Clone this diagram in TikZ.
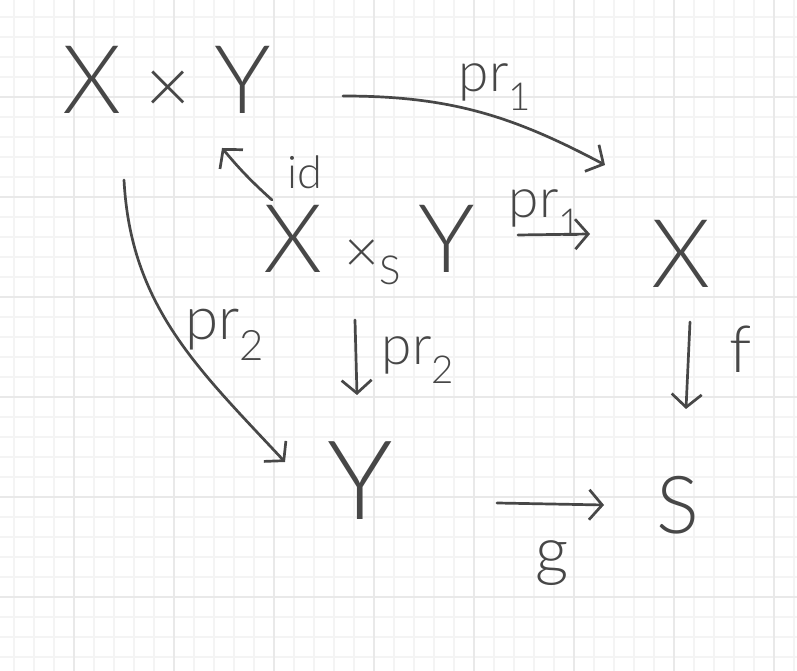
\documentclass[tikz,border=0pt]{standalone}
\usepackage{fontspec}
\setmainfont{Lato Light}
\usetikzlibrary{arrows.meta}
\definecolor{ink}{HTML}{474747}
\definecolor{gridminor}{HTML}{F4F4F4}
\definecolor{gridmajor}{HTML}{E9E9E9}
\begin{document}
\begin{tikzpicture}[x=1pt,y=1pt,
  obj/.style={text=ink, font=\fontsize{95}{95}\selectfont, inner sep=0pt, anchor=base},
  lbl/.style={text=ink, font=\fontsize{55}{55}\selectfont, inner sep=0pt},
  arr/.style={draw=ink, line width=2.7pt, line cap=round, line join=round,
    -{Straight Barb[length=13pt,width=30pt]}}]
\useasboundingbox (0,0) rectangle (797,671);
\fill[white] (0,0) rectangle (797,671);
% grid paper
\foreach \gx in {14,34,...,794} \draw[gridminor, line width=1.4pt] (\gx,0) -- (\gx,671);
\foreach \gy in {14,34,...,654} \draw[gridminor, line width=1.4pt] (0,\gy) -- (797,\gy);
\foreach \gx in {74,174,...,774} \draw[gridmajor, line width=1.6pt] (\gx,0) -- (\gx,671);
\foreach \gy in {74,174,...,574} \draw[gridmajor, line width=1.6pt] (0,\gy) -- (797,\gy);

% objects
\node[obj] (XY) at (167,557) {X\hspace{24pt}{\fontsize{78}{78}\selectfont ×}\hspace{24pt}Y};
\node[obj] (P) at (369,398) {X\hspace{22pt}{\fontsize{60}{60}\selectfont ×\raisebox{-12pt}{\fontsize{40}{40}\selectfont S}}\hspace{18pt}Y};
\node[obj] (X) at (681,383) {X};
\node[obj, font=\fontsize{110}{110}\selectfont] (Y) at (360,151) {Y};
\node[obj, font=\fontsize{80}{80}\selectfont] (S) at (678,137) {S};

% arrows
\draw[arr] ([shift={(176,18)}]XY.base) to[out=0,in=152] ([shift={(-76,123)}]X.base);
\draw[arr] ([shift={(-97,73)}]P.base) to[bend left=4] ([shift={(55,-34)}]XY.base);
\draw[arr] ([shift={(149,38)}]P.base) -- ([shift={(-91,54)}]X.base);
\draw[arr] ([shift={(-14,-47)}]P.base) -- ([shift={(-3,125)}]Y.base);
\draw[arr] ([shift={(-43,-66)}]XY.base) to[out=-87,in=133] ([shift={(-75,58)}]Y.base);
\draw[arr] ([shift={(9,-34)}]X.base) -- ([shift={(8,125)}]S.base);
\draw[arr] ([shift={(137,17)}]Y.base) -- ([shift={(-74,29)}]S.base);

% labels
\node[lbl] (l1) at (495,584) {pr\textsubscript{1}};
\node[lbl, font=\fontsize{45}{45}\selectfont] (lid) at (305,499) {id};
\node[lbl] (l2) at (545,458) {pr\textsubscript{1}};
\node[lbl] (l3) at (418,311) {pr\textsubscript{2}};
\node[lbl, font=\fontsize{60}{60}\selectfont] (l4) at (225,336) {pr\textsubscript{2}};
\node[lbl, font=\fontsize{65}{65}\selectfont] (lf) at (741,322) {f};
\node[lbl, font=\fontsize{65}{65}\selectfont] (lg) at (552,108) {g};
\end{tikzpicture}
\end{document}
